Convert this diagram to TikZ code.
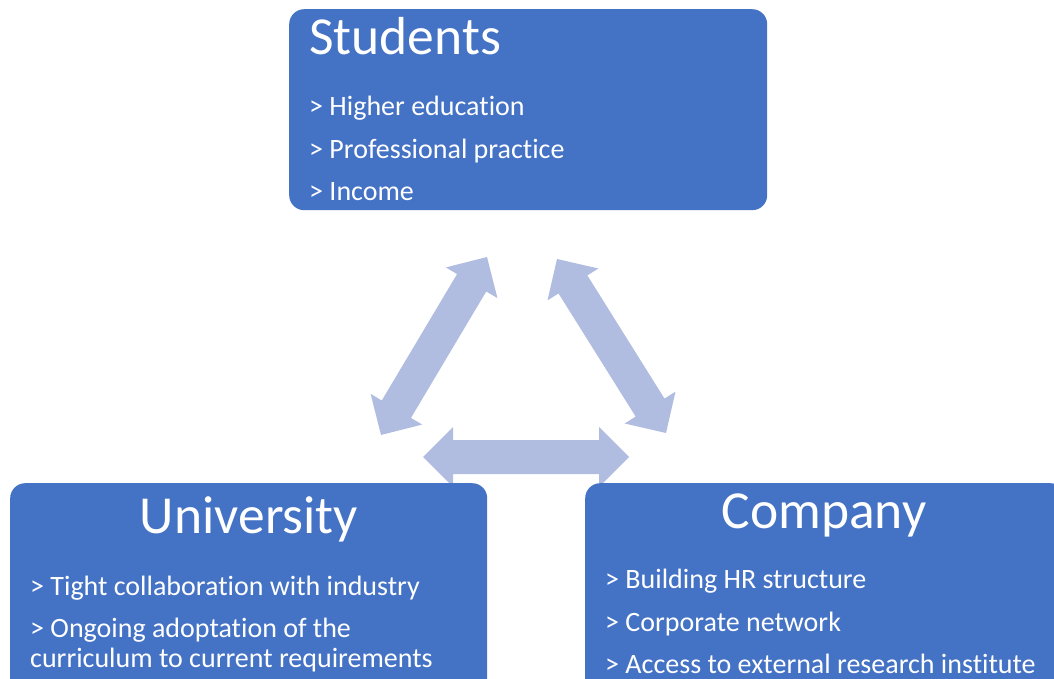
\documentclass[tikz,border=0pt]{standalone}
\usepackage{fontspec}
\setmainfont{Carlito}[Ligatures=NoCommon]
\usetikzlibrary{calc}
\definecolor{boxblue}{HTML}{4472C4}
\definecolor{linkblue}{HTML}{B0BDE0}
\tikzset{
  panel/.style={fill=boxblue, draw=none, rounded corners=15pt, anchor=north west, inner sep=0pt},
  headtext/.style={text=white, font=\fontsize{53.5}{60}\selectfont, inner sep=0pt, anchor=base},
  itemtext/.style={text=white, font=\fontsize{28}{33}\selectfont, inner sep=0pt, anchor=base west},
  linkfill/.style={fill=linkblue},
}
% block arrow with a head at both ends, from tip #1 to tip #2
\newcommand\twowayarrow[2]{%
  \fill[linkfill] let \p1=(#1), \p2=(#2),
    \n1={atan2(\y2-\y1,\x2-\x1)}, \n2={veclen(\x2-\x1,\y2-\y1)}, \n3={\n2-30pt} in
    [shift={(\p1)}, rotate=\n1]
    (0pt,0pt) -- (30pt,30pt) -- (30pt,17pt) -- (\n3,17pt) -- (\n3,30pt)
    -- (\n2,0pt) -- (\n3,-30pt) -- (\n3,-17pt) -- (30pt,-17pt)
    -- (30pt,-30pt) -- cycle;}
\begin{document}
\begin{tikzpicture}[x=1pt,y=-1pt]
\useasboundingbox (0,0) rectangle (1054,679);
\clip (0,0) rectangle (1054,679);

% tips of the three links
\coordinate (lt) at (487,257);
\coordinate (lb) at (381,435);
\coordinate (rt) at (557,259);
\coordinate (rb) at (666,433);
\coordinate (hl) at (423,457);
\coordinate (hr) at (629,457);
\twowayarrow{lt}{lb}
\twowayarrow{rt}{rb}
\twowayarrow{hl}{hr}

% panels
\node[panel, minimum width=478pt, minimum height=201pt] (stu) at (289,9) {};
\node[panel, minimum width=477pt, minimum height=230pt] (uni) at (10,483) {};
\node[panel, minimum width=480pt, minimum height=230pt] (com) at (585,483) {};

% Students
\node[headtext, anchor=base west] (stuh) at (309,55) {Students};
\node[itemtext] (stu1) at (309,116) {> Higher education};
\node[itemtext] (stu2) at (309,158.5) {> Professional practice};
\node[itemtext] (stu3) at (309,200.5) {> Income};

% University
\node[headtext] (unih) at (249,533) {University};
\node[itemtext] (uni1) at (30,595) {> Tight collaboration with industry};
\node[itemtext] (uni2) at (30,637) {> Ongoing adoptation of the};
\node[itemtext] (uni3) at (30,667) {curriculum to current requirements};

% Company
\node[headtext] (comh) at (824,528) {Company};
\node[itemtext] (com1) at (605,588) {> Building HR structure};
\node[itemtext] (com2) at (605,631.5) {> Corporate network};
\node[itemtext] (com3) at (605,673) {> Access to external research institute};
\end{tikzpicture}
\end{document}
